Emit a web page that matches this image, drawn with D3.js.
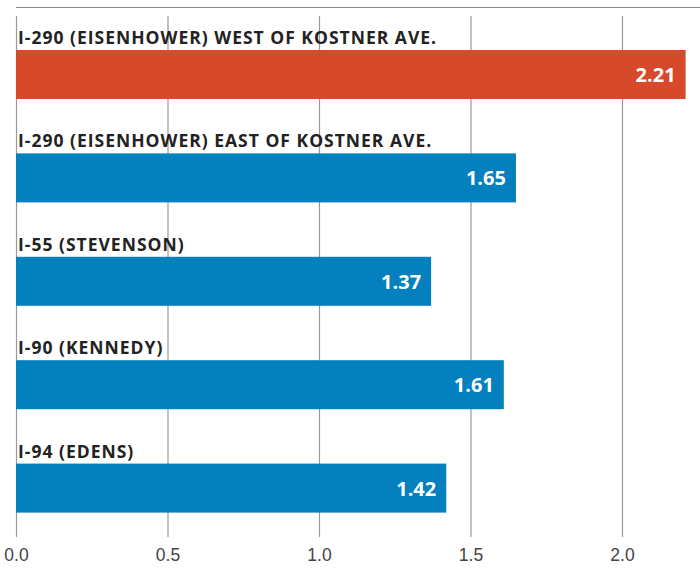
<!DOCTYPE html>
<html>
<head>
<meta charset="utf-8">
<script src="https://cdn.jsdelivr.net/npm/d3@7"></script>
<style>
  body { margin: 0; background: #fff; }
  svg { display: block; font-family: "Open Sans", "Lato", sans-serif; }
</style>
</head>
<body>
<div id="chart"></div>
<script>
// Data
var roads = [
  "I-290 (EISENHOWER) WEST OF KOSTNER AVE.",
  "I-290 (EISENHOWER) EAST OF KOSTNER AVE.",
  "I-55 (STEVENSON)",
  "I-90 (KENNEDY)",
  "I-94 (EDENS)"
];
var values = [2.21, 1.65, 1.37, 1.61, 1.42];
var ticks = [0, 0.5, 1.0, 1.5, 2.0];

var width = 700, height = 569;
var left = 16;

var svg = d3.select("#chart")
  .append("svg")
  .attr("width", width)
  .attr("height", height);

var x = d3.scaleLinear().domain([0, 2]).range([left, 622]);

var y = d3.scaleBand()
  .domain(roads)
  .range([24, 541])
  .paddingInner(0)
  .paddingOuter(0);

// top rule
svg.append("line")
  .attr("x1", left).attr("x2", width)
  .attr("y1", 7.5).attr("y2", 7.5)
  .attr("stroke", "#8a8a8a").attr("stroke-width", 1.2);

// grid lines + tick labels
var xAxis = d3.axisBottom(x)
  .tickValues(ticks)
  .tickFormat(d3.format(".1f"))
  .tickSize(-521)
  .tickPadding(8);

var gx = svg.append("g")
  .attr("transform", "translate(0,537)")
  .call(xAxis);
gx.select(".domain").remove();
gx.selectAll(".tick line").attr("stroke", "#9a9a9a").attr("stroke-width", 1.2);
gx.selectAll(".tick text")
  .attr("fill", "#444")
  .attr("font-size", 17.5)
  .attr("font-weight", 300)
  .attr("dy", "0.9em");

// bars
var rows = svg.selectAll(".row")
  .data(roads)
  .enter().append("g")
  .attr("class", "row")
  .attr("transform", function(d) { return "translate(0," + y(d) + ")"; });

rows.append("text")
  .attr("x", left + 2)
  .attr("y", 20)
  .attr("fill", "#222")
  .attr("font-size", 17.5)
  .attr("font-weight", 700)
  .attr("letter-spacing", 1)
  .text(function(d) { return d; });

rows.append("rect")
  .attr("x", x(0))
  .attr("y", 26)
  .attr("height", 49)
  .attr("width", function(d, i) { return x(values[i]) - x(0); })
  .attr("fill", function(d, i) { return i === 0 ? "#d6492a" : "#0380bd"; });

rows.append("text")
  .attr("x", function(d, i) { return x(values[i]) - 10; })
  .attr("y", 58)
  .attr("text-anchor", "end")
  .attr("fill", "#fff")
  .attr("font-size", 20)
  .attr("font-weight", 700)
  .text(function(d, i) { return values[i].toFixed(2); });
</script>
</body>
</html>
